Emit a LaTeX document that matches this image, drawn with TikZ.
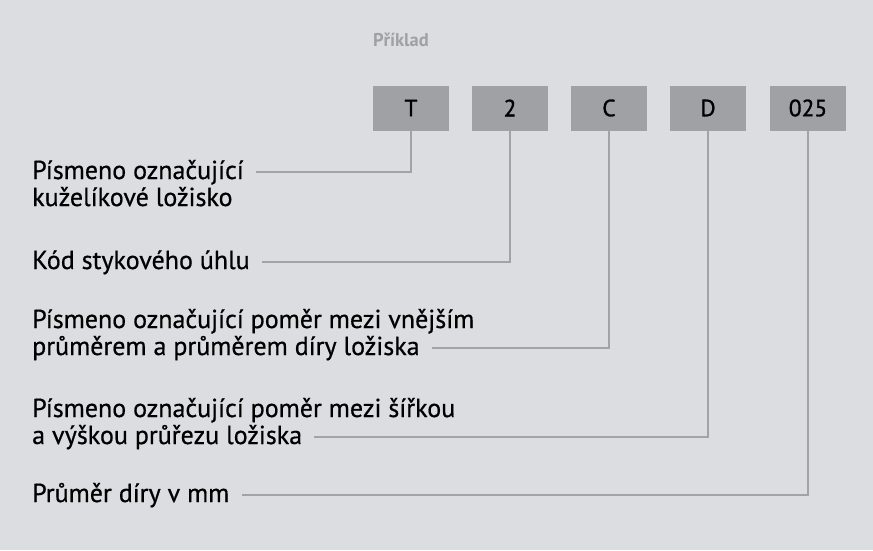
\documentclass[tikz,border=0pt]{standalone}
\usepackage{fontspec}
\setmainfont{PT Sans}
\newfontfamily\medsans{PT Sans}[FakeBold=0.6]
\newfontfamily\boxsans{PT Sans}[FakeBold=1.2]
\usepackage{color}
\definecolor{bggray}{HTML}{DCDDE0}
\definecolor{boxgray}{HTML}{A0A1A4}
\definecolor{linegray}{HTML}{A2A3A6}

\begin{document}
\begin{tikzpicture}[x=1pt,y=-1pt,
    code/.style={fill=boxgray,minimum width=76pt,minimum height=45pt,inner sep=0pt,font=\boxsans\fontsize{23.5}{25}\selectfont},
    label/.style={anchor=west,inner sep=0pt,text height=18pt,text depth=4pt,font=\medsans\fontsize{26}{28}\selectfont},
    conn/.style={draw=linegray,line width=2pt}]
  \fill[bggray] (0,0) rectangle (873,550);
  \node[anchor=west,inner sep=0pt,text=boxgray,font=\bfseries\fontsize{18.5}{20}\selectfont] (ex) at (373,40) {Příklad};
  % code boxes
  \node[code] (t) at (411,108) {T};
  \node[code] (two) at (510,108) {2};
  \node[code] (c) at (609,108) {C};
  \node[code] (d) at (708,108) {D};
  \node[code] (bore) at (808,108) {025};
  % labels
  \node[label] (l1a) at (32,172) {Písmeno označující};
  \node[label] (l1b) at (32,199) {kuželíkové ložisko};
  \node[label] (l2) at (32,262) {Kód stykového úhlu};
  \node[label] (l3a) at (32,321) {Písmeno označující poměr mezi vnějším};
  \node[label] (l3b) at (32,348) {průměrem a průměrem díry ložiska};
  \node[label] (l4a) at (32,410) {Písmeno označující poměr mezi šířkou};
  \node[label] (l4b) at (32,437) {a výškou průřezu ložiska};
  \node[label] (l5) at (32,495) {Průměr díry v mm};
  % connectors
  \draw[conn] ([xshift=12pt]l1a.east) -| (t.south);
  \draw[conn] ([xshift=12pt]l2.east) -| (two.south);
  \draw[conn] ([xshift=12pt]l3b.east) -| (c.south);
  \draw[conn] ([xshift=12pt]l4b.east) -| (d.south);
  \draw[conn] ([xshift=12pt]l5.east) -| (bore.south);
\end{tikzpicture}
\end{document}
